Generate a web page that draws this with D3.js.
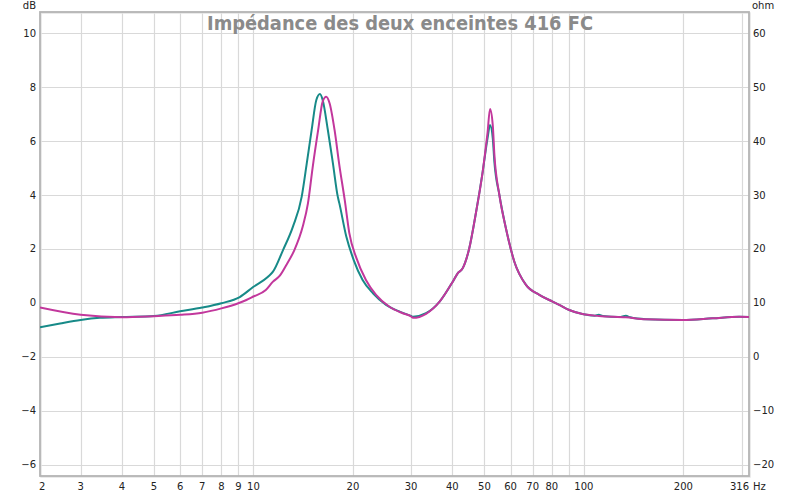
<!DOCTYPE html>
<html><head><meta charset="utf-8">
<script src="https://cdn.jsdelivr.net/npm/d3@7/dist/d3.min.js"></script>
<style>body{margin:0;background:#fff}svg{display:block}</style>
</head><body>
<svg id="c" width="800" height="494"></svg>
<script>
const title = "Impédance des deux enceintes 416 FC";
// Series 1 (teal) : frequency (Hz) / level (dB)
const tealFreq = [2.26,2.6,3.0,3.43,4.0,5.0,6.0,7.0,8.0,9.09,10.0,11.07,11.46,12.29,13.17,14.0,14.5,15.0,15.5,15.9,16.2,16.8,17.4,18.0,18.2,19.1,20.1,21.4,23.0,25.2,27.7,30.0,30.4,33.3,36.6,40.1,41.5,43.0,45.0,47.2,49.4,51.1,52.0,53.0,53.6,55.5,58.1,61.6,66.8,73.3,80.4,84.2,90.3,99.0,108,111,114,128,134,138,154,199,245,295,316];
const tealDb   = [-0.90,-0.76,-0.63,-0.55,-0.52,-0.48,-0.31,-0.17,-0.01,0.22,0.60,0.97,1.16,1.96,2.83,3.94,5.17,6.40,7.52,7.74,7.52,6.40,5.17,3.94,3.69,2.46,1.60,0.85,0.36,-0.07,-0.32,-0.48,-0.51,-0.38,0.05,0.79,1.10,1.29,2.03,3.38,4.86,6.10,6.59,6.10,5.23,4.00,2.76,1.53,0.67,0.30,0.05,-0.07,-0.26,-0.41,-0.47,-0.44,-0.48,-0.52,-0.47,-0.53,-0.60,-0.63,-0.57,-0.51,-0.52];
// Series 2 (magenta)
const magFreq = [2.26,3.0,4.0,5.0,6.0,7.0,8.0,9.0,9.52,10.0,10.9,11.46,12.0,12.58,13.3,14.1,14.62,15.1,15.7,16.2,16.6,17.0,17.6,18.2,18.9,19.5,20.5,21.9,23.5,25.8,28.3,30.0,30.4,33.3,36.6,40.1,41.5,43.0,45.0,47.2,49.4,51.1,52.0,53.0,53.6,55.5,58.1,61.6,66.8,73.3,80.4,84.2,90.3,99.0,111,134,154,199,245,295,316];
const magDb   = [-0.17,-0.44,-0.53,-0.49,-0.44,-0.36,-0.20,-0.01,0.11,0.24,0.48,0.79,1.00,1.41,1.96,2.83,3.69,5.00,6.41,7.46,7.64,7.40,6.41,5.10,3.80,2.60,1.66,0.85,0.30,-0.14,-0.38,-0.50,-0.55,-0.40,0.05,0.79,1.10,1.29,2.03,3.38,4.86,6.30,7.19,6.59,5.50,4.00,2.76,1.53,0.67,0.30,0.05,-0.07,-0.26,-0.41,-0.48,-0.53,-0.60,-0.63,-0.57,-0.51,-0.52];
// Axes
const xGrid = [3,4,5,6,7,8,9,10,20,30,40,50,60,70,80,90,100,200,300];
const xTickVals = [3,4,5,6,7,8,9,10,20,30,40,50,60,70,80,100,200];
const xStartLabel = "2", xEndLabel = "316", xUnit = "Hz";
const dbTicks = [-6,-4,-2,0,2,4,6,8,10];
const ohmTicks = [-20,-10,0,10,20,30,40,50,60];
const fMin = 2.26, fMax = 316, dbMin = -6.41, dbMax = 10.78;

const svg = d3.select("#c");
const L = 40, R = 749, T = 12, B = 476;
const x = d3.scaleLog().domain([fMin, fMax]).range([L, R]);
const y = d3.scaleLinear().domain([dbMin, dbMax]).range([B, T]);
const yOhm = d3.scaleLinear().domain([dbMin*5+10, dbMax*5+10]).range([B, T]);
const font = "DejaVu Sans, Verdana, sans-serif";

// grid
const g = svg.append("g");
g.selectAll(".vg").data(xGrid).join("line")
  .attr("x1", d => Math.round(x(d))+0.5).attr("x2", d => Math.round(x(d))+0.5)
  .attr("y1", T).attr("y2", B).attr("stroke", "#d9d9d9").attr("stroke-width", 1.2);
g.selectAll(".hg").data(dbTicks).join("line")
  .attr("y1", d => Math.round(y(d))+0.5).attr("y2", d => Math.round(y(d))+0.5)
  .attr("x1", L).attr("x2", R).attr("stroke", "#d9d9d9").attr("stroke-width", 1.2);

// title
const t = svg.append("text").attr("x", 400).attr("y", 30).attr("text-anchor", "middle")
  .attr("font-family", font).attr("font-weight", "bold").attr("font-size", 20)
  .attr("fill", "#8a8a8a").text(title);
const tw = t.node().getComputedTextLength();
if (tw > 386) t.attr("textLength", 386).attr("lengthAdjust", "spacingAndGlyphs");

// frame
svg.append("rect").attr("x", L+1).attr("y", T+1).attr("width", R-L).attr("height", B-T)
  .attr("fill", "none").attr("stroke", "#e4e4e4").attr("stroke-width", 1.5);
svg.append("rect").attr("x", L).attr("y", T).attr("width", R-L).attr("height", B-T)
  .attr("fill", "none").attr("stroke", "#b4b4b4").attr("stroke-width", 1.8);

// curves
const line = d3.line().x(d => x(d[0])).y(d => y(d[1])).curve(d3.curveMonotoneX);
const clip = svg.append("clipPath").attr("id", "cp").append("rect")
  .attr("x", L).attr("y", T).attr("width", R-L).attr("height", B-T);
svg.append("path").datum(d3.zip(tealFreq, tealDb)).attr("d", line)
  .attr("fill", "none").attr("stroke", "#178a88").attr("stroke-width", 2).attr("clip-path", "url(#cp)");
svg.append("path").datum(d3.zip(magFreq, magDb)).attr("d", line)
  .attr("fill", "none").attr("stroke", "#c2379c").attr("stroke-width", 2).attr("clip-path", "url(#cp)");

// left axis labels
const lab = svg.append("g").attr("font-family", font).attr("font-size", 10).attr("fill", "#222");
lab.selectAll(".ly").data(dbTicks).join("text").attr("x", 36).attr("y", d => y(d)).attr("dy", "0.35em")
  .attr("text-anchor", "end").text(d => d < 0 ? "\u2212" + Math.abs(d) : d);
lab.append("text").attr("x", 36).attr("y", 5).attr("dy", "0.35em").attr("text-anchor", "end").text("dB");
// right axis labels
lab.selectAll(".ry").data(ohmTicks).join("text").attr("x", 753).attr("y", d => yOhm(d)).attr("dy", "0.35em")
  .attr("text-anchor", "start").text(d => d < 0 ? "\u2212" + Math.abs(d) : d);
lab.append("text").attr("x", 752).attr("y", 5).attr("dy", "0.35em").attr("text-anchor", "start").text("ohm");
// bottom labels
lab.selectAll(".bx").data(xTickVals).join("text").attr("x", d => x(d)).attr("y", 486).attr("dy", "0.35em")
  .attr("text-anchor", "middle").text(d => d);
lab.append("text").attr("x", x(fMin)-1).attr("y", 486).attr("dy", "0.35em").attr("text-anchor", "start").text(xStartLabel);
lab.append("text").attr("x", x(fMax)).attr("y", 486).attr("dy", "0.35em").attr("text-anchor", "end").text(xEndLabel);
lab.append("text").attr("x", x(fMax)+4).attr("y", 486).attr("dy", "0.35em").attr("text-anchor", "start").text(xUnit);
</script>
</body></html>
